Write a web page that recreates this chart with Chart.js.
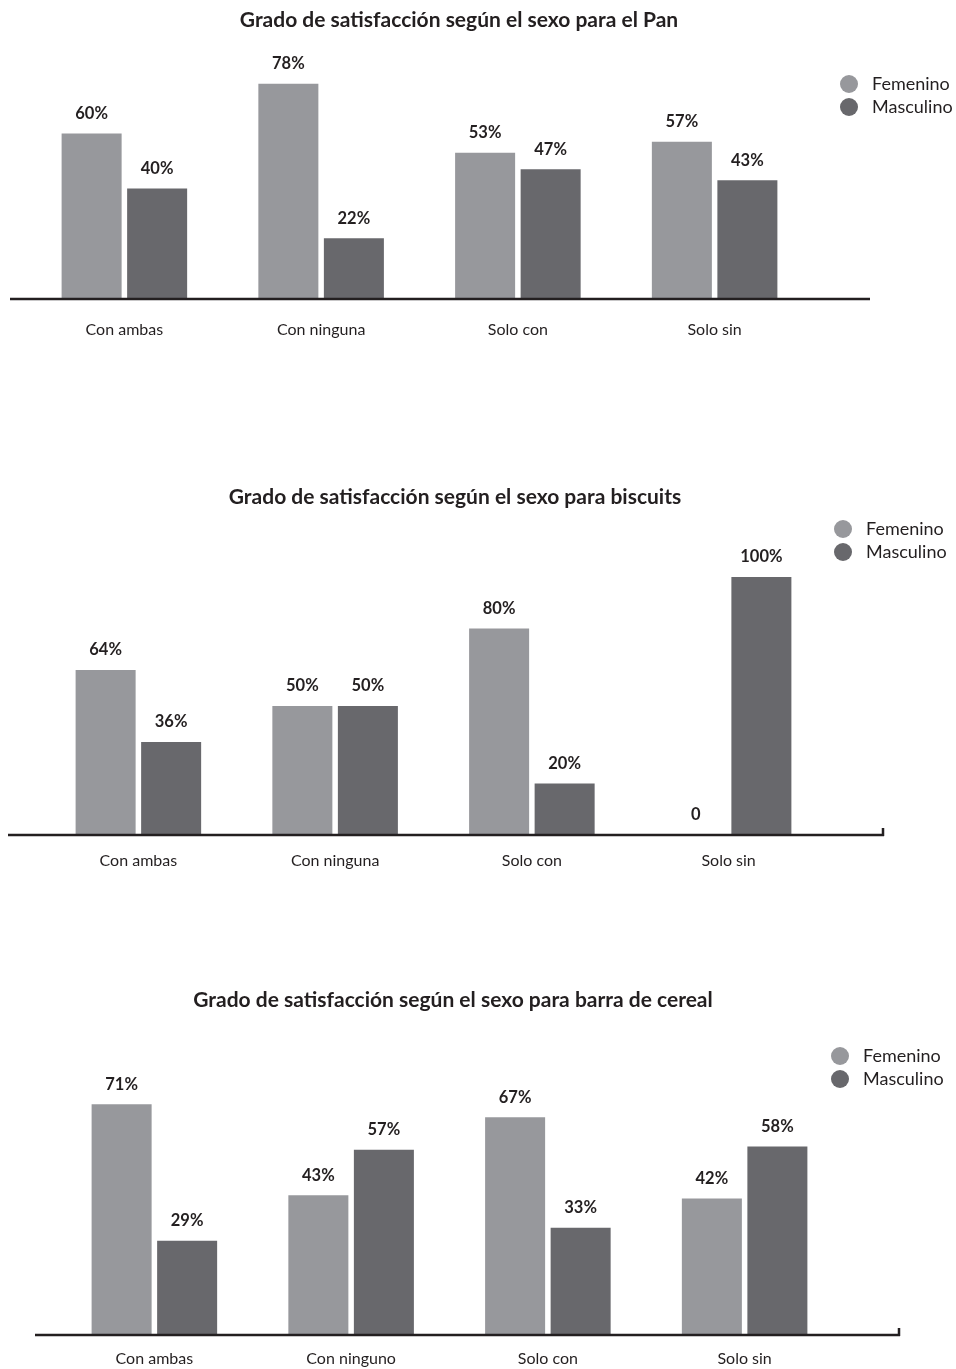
<!DOCTYPE html>
<html lang="es">
<head>
<meta charset="utf-8">
<title>Grado de satisfacción según el sexo</title>
<script src="https://cdn.jsdelivr.net/npm/chart.js@4.4.1/dist/chart.umd.min.js"></script>
<style>
    html, body { margin: 0; padding: 0; background: #fff; }
    body { position: relative; width: 956px; height: 1369px; overflow: hidden; }
    canvas { position: absolute; left: 0; }
</style>
</head>
<body>
<canvas id="chart-pan" width="956" height="370" style="top:0px"></canvas>
<canvas id="chart-biscuits" width="956" height="410" style="top:470px"></canvas>
<canvas id="chart-cereal" width="956" height="389" style="top:980px"></canvas>
<script>
// Datos
const seriesNames = ["Femenino", "Masculino"];

const categoriesPan = ["Con ambas", "Con ninguna", "Solo con", "Solo sin"];
const femeninoPan = [60, 78, 53, 57];
const masculinoPan = [40, 22, 47, 43];

const categoriesBiscuits = ["Con ambas", "Con ninguna", "Solo con", "Solo sin"];
const femeninoBiscuits = [64, 50, 80, 0];
const masculinoBiscuits = [36, 50, 20, 100];

const categoriesCereal = ["Con ambas", "Con ninguno", "Solo con", "Solo sin"];
const femeninoCereal = [71, 43, 67, 42];
const masculinoCereal = [29, 57, 33, 58];

const COLOR_FEM = "#97989c";
const COLOR_MASC = "#68686c";
const INK = "#231f20";
const FONT = "Lato, 'Open Sans', sans-serif";

// Dibuja título, leyenda, etiquetas de valor y línea base
const decorPlugin = {
    id: "decor",
    afterDraw(chart, args, opts) {
        const ctx = chart.ctx;
        const yScale = chart.scales.y;
        const y0 = yScale.getPixelForValue(0);
        ctx.save();

        // línea base
        ctx.strokeStyle = INK;
        ctx.lineWidth = 2.5;
        ctx.beginPath();
        ctx.moveTo(opts.axisFrom, y0);
        ctx.lineTo(opts.axisTo, y0);
        if (opts.endTick) {
            ctx.moveTo(opts.axisTo - 1, y0 + 1);
            ctx.lineTo(opts.axisTo - 1, y0 - 7);
        }
        ctx.stroke();

        // título
        ctx.fillStyle = INK;
        ctx.font = "bold 21px " + FONT;
        ctx.textAlign = "center";
        ctx.textBaseline = "middle";
        ctx.fillText(opts.title, opts.titleX, opts.titleY);

        // etiquetas de valor
        ctx.font = "bold 16.5px " + FONT;
        chart.data.datasets.forEach((ds, i) => {
            chart.getDatasetMeta(i).data.forEach((bar, j) => {
                const v = ds.data[j];
                const txt = v === 0 ? "0" : v + "%";
                ctx.fillText(txt, bar.x, bar.y - 20);
            });
        });

        // leyenda
        ctx.font = "18px " + FONT;
        ctx.textAlign = "left";
        chart.data.datasets.forEach((ds, i) => {
            const cy = opts.legendY + i * 23;
            ctx.fillStyle = ds.backgroundColor;
            ctx.beginPath();
            ctx.arc(opts.legendX, cy, 9, 0, Math.PI * 2);
            ctx.fill();
            ctx.fillStyle = INK;
            ctx.fillText(ds.label, opts.legendX + 23, cy);
        });

        ctx.restore();
    },
};

function makeChart(id, categories, fem, masc, layout) {
    const ctx = document.getElementById(id).getContext("2d");
    return new Chart(ctx, {
        type: "bar",
        data: {
            labels: categories,
            datasets: [
                { label: seriesNames[0], data: fem, backgroundColor: COLOR_FEM },
                { label: seriesNames[1], data: masc, backgroundColor: COLOR_MASC },
            ],
        },
        options: {
            responsive: false,
            animation: false,
            events: [],
            categoryPercentage: 0.666,
            barPercentage: 0.916,
            layout: {
                padding: {
                    top: layout.top,
                    left: layout.left,
                    right: 956 - layout.right,
                    bottom: 0,
                },
            },
            scales: {
                x: {
                    grid: { display: false, drawTicks: false },
                    border: { display: false },
                    ticks: {
                        color: INK,
                        font: { family: FONT, size: 16 },
                        padding: layout.labelPad,
                        maxRotation: 0,
                    },
                    afterFit(scale) {
                        scale.height = layout.height - layout.baseline;
                    },
                },
                y: {
                    display: false,
                    min: 0,
                    max: 100,
                },
            },
            plugins: {
                legend: { display: false },
                tooltip: { enabled: false },
                decor: layout.decor,
            },
        },
        plugins: [decorPlugin],
    });
}

makeChart("chart-pan", categoriesPan, femeninoPan, masculinoPan, {
    height: 370, top: 23, baseline: 299, left: 26, right: 813, labelPad: 21,
    decor: {
        title: "Grado de satisfacción según el sexo para el Pan",
        titleX: 459, titleY: 20,
        legendX: 849, legendY: 84,
        axisFrom: 10, axisTo: 870, endTick: false,
    },
});

makeChart("chart-biscuits", categoriesBiscuits, femeninoBiscuits, masculinoBiscuits, {
    height: 410, top: 107, baseline: 365, left: 40, right: 827, labelPad: 16,
    decor: {
        title: "Grado de satisfacción según el sexo para biscuits",
        titleX: 455, titleY: 27,
        legendX: 843, legendY: 59,
        axisFrom: 8, axisTo: 884, endTick: true,
    },
});

makeChart("chart-cereal", categoriesCereal, femeninoCereal, masculinoCereal, {
    height: 389, top: 30, baseline: 355, left: 56, right: 843, labelPad: 14,
    decor: {
        title: "Grado de satisfacción según el sexo para barra de cereal",
        titleX: 453, titleY: 20,
        legendX: 840, legendY: 76,
        axisFrom: 35, axisTo: 900, endTick: true,
    },
});
</script>
</body>
</html>
